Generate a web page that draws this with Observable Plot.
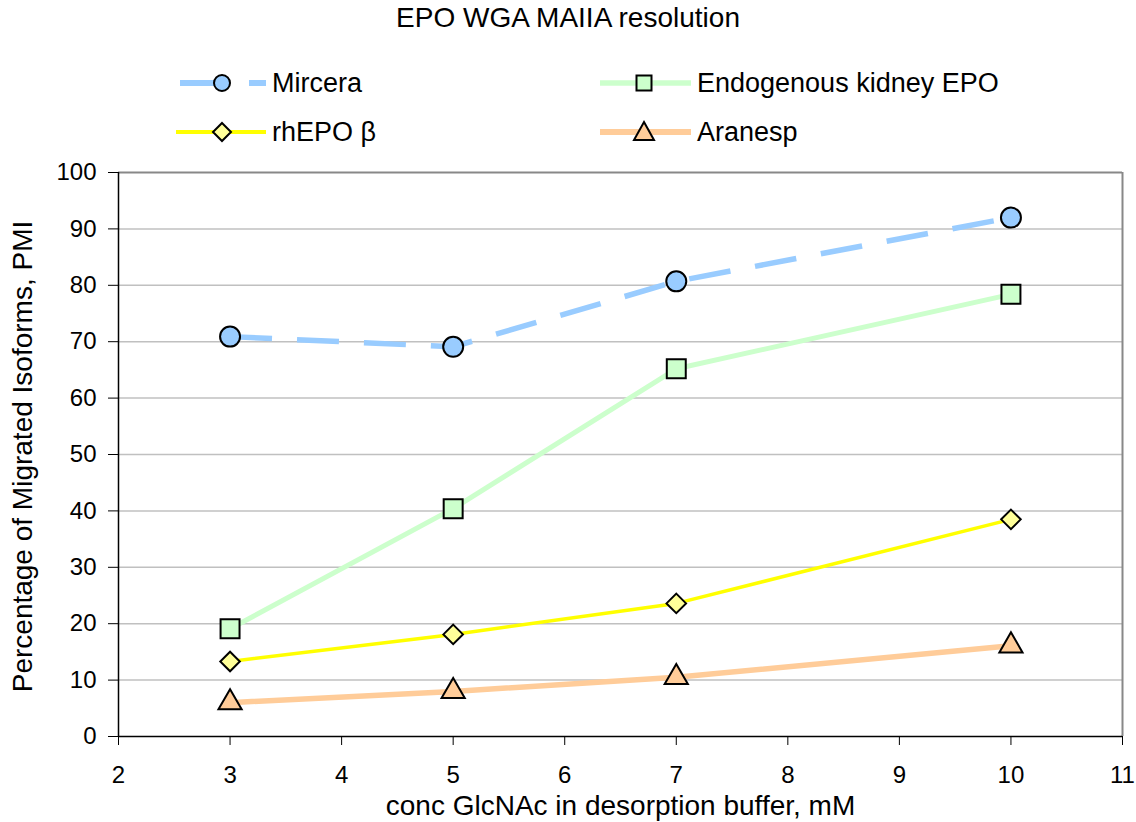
<!DOCTYPE html>
<html>
<head>
<meta charset="utf-8">
<script src="https://cdn.jsdelivr.net/npm/d3@7"></script>
<script src="https://cdn.jsdelivr.net/npm/@observablehq/plot@0.6"></script>
<style>
  html, body { margin: 0; padding: 0; background: #fff; }
  body { width: 1136px; height: 822px; position: relative; overflow: hidden; font-family: "Liberation Sans", Arial, sans-serif; }
  #title { position: absolute; top: 3px; left: 0; width: 1136px; text-align: center; font-size: 28px; line-height: 30px; color: #000; }
  .legsw { position: absolute; }
  .legtx { position: absolute; font-size: 27px; line-height: 30px; color: #000; white-space: nowrap; }
  #chart { position: absolute; top: 150px; left: 0; }
</style>
</head>
<body>
<div id="title">EPO WGA MAIIA resolution</div>
<div id="legend"></div>
<div id="chart"></div>
<script>
const conc = [3, 5, 7, 10];
const seriesNames = ["Mircera", "Endogenous kidney EPO", "rhEPO β", "Aranesp"];
const mircera = [70.9, 69.1, 80.7, 92.0];
const endogenous = [19.1, 40.4, 65.2, 78.4];
const rhepo = [13.3, 18.1, 23.6, 38.5];
const aranesp = [6.0, 8.0, 10.5, 16.1];
const yTicks = [0, 10, 20, 30, 40, 50, 60, 70, 80, 90, 100];
const xTicks = [2, 3, 4, 5, 6, 7, 8, 9, 10, 11];

const styles = [
  {line: "#99CCFF", fill: "#99CCFF", width: 5.5, dash: "42,25", symbol: "circle", r: 10},
  {line: "#CCFFCC", fill: "#CCFFCC", width: 5, dash: null, symbol: "square", r: 10.7},
  {line: "#FFFF00", fill: "#FFFF99", width: 3.5, dash: null, symbol: "diamond2", r: 8.8},
  {line: "#FFCC99", fill: "#FFCC99", width: 5.5, dash: null, symbol: "triangle", r: 8.6}
];
const values = [mircera, endogenous, rhepo, aranesp];

const rows = [];
values.forEach((vals, i) => conc.forEach((c, j) => rows.push({series: seriesNames[i], conc: c, pmi: vals[j]})));

const marks = [
  Plot.ruleY(yTicks.filter(t => t > 0 && t < 100), {stroke: "#c0c0c0", strokeWidth: 1.5}),
  Plot.ruleY([100], {stroke: "#888888", strokeWidth: 2}),
  Plot.ruleX([11], {stroke: "#888888", strokeWidth: 2}),
  Plot.axisY({ticks: yTicks, tickSize: 10, tickFormat: () => "", label: null, stroke: "#000"}),
  Plot.axisX({ticks: xTicks, tickSize: 9, tickFormat: () => "", label: null, stroke: "#000"}),
  Plot.text(yTicks, {x: 2, y: d => d, text: d => String(d), dx: -22, textAnchor: "end", fontSize: 24, fill: "#000"}),
  Plot.text(xTicks, {x: d => d, y: 0, text: d => String(d), dy: 39, textAnchor: "middle", fontSize: 24, fill: "#000"}),
  Plot.ruleX([2], {stroke: "#000", strokeWidth: 1.5}),
  Plot.ruleY([0], {stroke: "#000", strokeWidth: 1.5})
];
seriesNames.forEach((name, i) => {
  const s = styles[i];
  const d = rows.filter(r => r.series === name);
  marks.push(Plot.line(d, {x: "conc", y: "pmi", stroke: s.line, strokeWidth: s.width, strokeDasharray: s.dash || undefined, strokeLinecap: "butt"}));
});
seriesNames.forEach((name, i) => {
  const s = styles[i];
  const d = rows.filter(r => r.series === name);
  marks.push(Plot.dot(d, {x: "conc", y: "pmi", symbol: () => s.symbol, r: s.r, fill: s.fill, stroke: "#000", strokeWidth: 2}));
});
marks.push(Plot.text(["Percentage of Migrated Isoforms, PMI"], {frameAnchor: "left", dx: -95, dy: 2, rotate: -90, textAnchor: "middle", lineAnchor: "middle", fontSize: 28, text: d => d, fill: "#000"}));
marks.push(Plot.text(["conc GlcNAc in desorption buffer, mM"], {frameAnchor: "bottom", dy: 70, textAnchor: "middle", lineAnchor: "middle", fontSize: 28, text: d => d, fill: "#000"}));

const chart = Plot.plot({
  width: 1136,
  height: 672,
  marginLeft: 118,
  marginRight: 14,
  marginTop: 22,
  marginBottom: 86,
  style: {fontFamily: "'Liberation Sans', Arial, sans-serif", color: "#000", overflow: "visible"},
  x: {domain: [2, 11]},
  y: {domain: [0, 100]},
  symbol: {type: "identity"},
  marks
});
document.getElementById("chart").appendChild(chart);

// Legend
const legPos = [
  {x0: 180, x1: 266, sym: 222, text: 272, y: 83},
  {x0: 600, x1: 691, sym: 644, text: 697, y: 83},
  {x0: 176, x1: 266, sym: 222, text: 272, y: 132},
  {x0: 600, x1: 691, sym: 644, text: 697, y: 132}
];
const symShape = {
  circle: c => `<circle cx="${c}" cy="15" r="8" />`,
  square: c => `<rect x="${c - 7.5}" y="7.5" width="15" height="15" />`,
  diamond2: c => `<path d="M${c},6 L${c + 9},15 L${c},24 L${c - 9},15 Z" />`,
  triangle: c => `<path d="M${c},5 L${c + 10},23 L${c - 10},23 Z" />`
};
const leg = document.getElementById("legend");
seriesNames.forEach((name, i) => {
  const s = styles[i];
  const p = legPos[i];
  const w = p.x1 - p.x0;
  const c = p.sym - p.x0;
  let line;
  if (s.dash) {
    line = `<line x1="0" y1="15" x2="${c}" y2="15" stroke="${s.line}" stroke-width="6"/><line x1="${c + 27}" y1="15" x2="${w}" y2="15" stroke="${s.line}" stroke-width="6"/>`;
  } else {
    line = `<line x1="0" y1="15" x2="${w}" y2="15" stroke="${s.line}" stroke-width="${s.width + 0.5}"/>`;
  }
  const sw = document.createElement("div");
  sw.className = "legsw";
  sw.style.left = p.x0 + "px";
  sw.style.top = (p.y - 15) + "px";
  sw.innerHTML = `<svg width="${w}" height="30" style="display:block">${line}<g fill="${s.fill}" stroke="#000" stroke-width="2">${symShape[s.symbol](c)}</g></svg>`;
  leg.appendChild(sw);
  const tx = document.createElement("div");
  tx.className = "legtx";
  tx.style.left = p.text + "px";
  tx.style.top = (p.y - 15) + "px";
  tx.textContent = name;
  leg.appendChild(tx);
});
</script>
</body>
</html>
